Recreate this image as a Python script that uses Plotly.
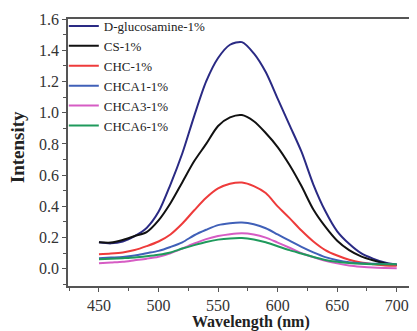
import plotly.graph_objects as go

wavelength = [450, 460, 470, 480, 490, 500, 510, 520, 530, 540, 550, 560, 570,
              580, 590, 600, 610, 620, 630, 640, 650, 660, 670, 680, 690, 700]

d_glucosamine = [0.170, 0.163, 0.175, 0.210, 0.262, 0.365, 0.54, 0.74, 0.98, 1.20, 1.35, 1.435, 1.452,
                 1.38, 1.26, 1.09, 0.92, 0.75, 0.54, 0.37, 0.24, 0.16, 0.10, 0.065, 0.04, 0.025]
cs = [0.170, 0.168, 0.185, 0.210, 0.235, 0.31, 0.42, 0.555, 0.69, 0.80, 0.915, 0.97, 0.985,
      0.945, 0.87, 0.78, 0.665, 0.53, 0.38, 0.27, 0.18, 0.12, 0.08, 0.055, 0.035, 0.025]
chc = [0.094, 0.098, 0.105, 0.12, 0.145, 0.175, 0.22, 0.29, 0.375, 0.455, 0.515, 0.545, 0.553,
       0.53, 0.485, 0.40, 0.325, 0.245, 0.175, 0.12, 0.085, 0.058, 0.04, 0.03, 0.022, 0.02]
chca1 = [0.068, 0.072, 0.076, 0.085, 0.10, 0.115, 0.14, 0.17, 0.215, 0.25, 0.28, 0.292, 0.296,
         0.285, 0.26, 0.22, 0.18, 0.14, 0.105, 0.075, 0.055, 0.042, 0.036, 0.033, 0.031, 0.03]
chca3 = [0.035, 0.04, 0.045, 0.055, 0.065, 0.078, 0.10, 0.13, 0.162, 0.19, 0.21, 0.222, 0.228,
         0.22, 0.20, 0.168, 0.135, 0.10, 0.075, 0.052, 0.035, 0.022, 0.014, 0.008, 0.005, 0.003]
chca6 = [0.062, 0.065, 0.068, 0.072, 0.08, 0.09, 0.105, 0.13, 0.152, 0.172, 0.187, 0.195, 0.197,
         0.188, 0.17, 0.145, 0.12, 0.098, 0.076, 0.057, 0.045, 0.037, 0.032, 0.03, 0.03, 0.03]

series_names = ["D-glucosamine-1%", "CS-1%", "CHC-1%", "CHCA1-1%", "CHCA3-1%", "CHCA6-1%"]
series_values = [d_glucosamine, cs, chc, chca1, chca3, chca6]
series_colors = ["#2a2a84", "#111111", "#ee3b3b", "#4060b8", "#d65cc4", "#1f9a5c"]

font_family = "Liberation Serif, Times New Roman, serif"

fig = go.Figure()
for name, vals, col in zip(series_names, series_values, series_colors):
    fig.add_trace(go.Scatter(x=wavelength, y=vals, name=name, mode="lines",
                             line=dict(color=col, width=2, shape="spline", smoothing=0.8)))

axis_common = dict(showgrid=False, zeroline=False, showline=True, linecolor="#555555", linewidth=1.5,
                   ticks="outside", ticklen=4, tickwidth=1.2, tickcolor="#555555",
                   tickfont=dict(family=font_family, size=16, color="#333333"))

fig.update_xaxes(range=[424, 717], tickmode="array", tickvals=[450, 500, 550, 600, 650, 700],
                 mirror=True,
                 minor=dict(ticks="outside", ticklen=3, tickcolor="#555555", dtick=25, tick0=450),
                 **axis_common)
fig.update_yaxes(range=[-0.11, 1.6], tickmode="array",
                 tickvals=[0.0, 0.2, 0.4, 0.6, 0.8, 1.0, 1.2, 1.4, 1.6],
                 ticktext=["0.0", "0.2", "0.4", "0.6", "0.8", "1.0", "1.2", "1.4", "1.6"],
                 minor=dict(ticks="outside", ticklen=3, tickcolor="#555555", dtick=0.1, tick0=0),
                 **axis_common)

fig.add_annotation(text="<b>Wavelength (nm)</b>", xref="paper", yref="paper",
                   x=0.524, y=-0.133, xanchor="center", yanchor="middle", showarrow=False,
                   font=dict(family=font_family, size=16, color="#222222"))
fig.add_annotation(text="<b>Intensity</b>", xref="paper", yref="paper",
                   x=-0.146, y=0.52, xanchor="center", yanchor="middle", showarrow=False,
                   textangle=-90, font=dict(family=font_family, size=19, color="#222222"))

# The page body has an 8px default margin, so the figure is sized to fit the window.
fig.update_layout(
    width=409, height=323,
    margin=dict(l=60, r=0, t=11, b=45),
    paper_bgcolor="white", plot_bgcolor="white",
    showlegend=True,
    legend=dict(x=-0.012, y=1.03, xanchor="left", yanchor="top", bgcolor="rgba(0,0,0,0)",
                font=dict(family=font_family, size=13, color="#222222"),
                tracegroupgap=0),
)

fig.write_html("out.html")
